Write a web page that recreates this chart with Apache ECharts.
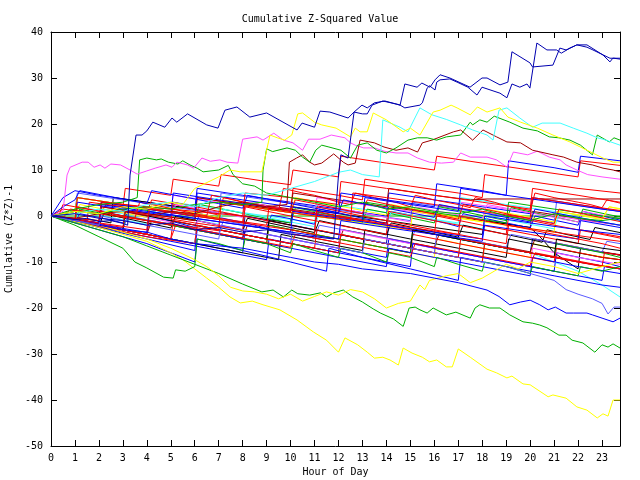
<!DOCTYPE html>
<html><head><meta charset="utf-8">
<script src="https://cdn.jsdelivr.net/npm/echarts@6/dist/echarts.min.js"></script>
<style>html,body{margin:0;padding:0;background:#fff}#c{width:640px;height:480px}</style>
</head><body><div id="c"></div>
<script>
// ---- tick labels / axis ranges ----
const xTicks = [0,1,2,3,4,5,6,7,8,9,10,11,12,13,14,15,16,17,18,19,20,21,22,23];
const xMax = 23.75;
const yTicks = [-50,-40,-30,-20,-10,0,10,20,30,40];

// ---- outlier series, [hour, value] pairs ----
const blueA = [[0,0],[0.5,-0.3],[1,-0.8],[1.5,-0.5],[2,-1.2],[2.5,-1],[3,-1.6],[3.2,-2],[3.3,8.9],[3.55,17.6],[3.8,17.6],[4,18.5],[4.25,20.4],[4.75,19.3],[5.05,21.3],[5.25,20.4],[5.7,22.2],[6.5,19.8],[6.97,19.1],[7.26,23],[7.76,23.7],[8.3,21.5],[9.0,22.4],[10.27,18.7],[10.48,20.2],[11.0,19.3],[11.23,22.8],[11.64,22.6],[12.4,21.3],[12.65,22.6],[12.98,24.1],[13.2,23.5],[13.5,24.6],[13.94,25],[14.44,24.3],[14.57,24.1],[14.77,28.7],[15.28,28],[15.48,28.9],[15.82,28],[16.03,29.6],[16.24,30.7],[16.65,30],[17.49,28],[17.99,30],[18.2,30],[18.74,28.5],[19.07,29.1],[19.24,35.7],[19.99,33.3],[20.1,32.4],[20.95,32.8],[21.24,36.5],[21.5,36.1],[21.95,37.2],[22.37,36.7],[22.62,36.1],[23.33,34.3],[23.5,34.3],[23.75,34.1]];
const blueB = [[0,0],[1,0.5],[2,-0.5],[3,-1],[4,-2],[5,-1.5],[6,-3],[7,-2.5],[8,-3.5],[9,-3],[10,-4],[11,-4.5],[11.8,-5],[12.0,8.9],[12.1,13.3],[12.4,12.6],[12.65,22.6],[13.0,22.2],[13.2,22.2],[13.4,24.1],[13.85,25],[14.44,24.3],[14.57,24.1],[14.77,23.5],[15.4,24.1],[15.5,24.6],[15.7,27.8],[15.8,28.3],[16.03,27.4],[16.1,29.1],[16.24,29.6],[16.65,29.8],[16.95,29.1],[17.4,28],[17.78,26.3],[17.99,28],[18.74,26.7],[19.03,25.7],[19.24,28.7],[19.57,28],[19.87,28.7],[19.99,27.8],[20.28,37.6],[20.7,36.1],[21.1,36.1],[21.3,35.4],[21.66,36.5],[21.95,37.2],[22.37,37.2],[23.04,35],[23.33,33.5],[23.45,34.3],[23.75,34.3]];
const yellowHigh = [[0,0],[1,1],[2,0.5],[3,2],[4,1.5],[5,3],[5.5,2.5],[6,6],[7,8.5],[7.47,10],[7.9,9.6],[8.8,9.6],[9.14,17.6],[9.45,17],[9.75,16.5],[10.05,17.6],[10.3,22.2],[10.5,22.4],[11,20.4],[11.3,19.8],[11.9,19.1],[12.5,17.2],[12.7,19.1],[12.9,18.3],[13.2,18.3],[13.45,22.4],[14,20.9],[14.7,18.3],[15.0,19.1],[15.4,17.6],[15.95,22.6],[16.24,23],[16.7,24.1],[16.95,23.5],[17.5,22],[17.8,23.7],[18.2,22.6],[18.74,23.5],[19.07,21.5],[19.6,20.4],[20.3,19.1],[20.95,17.6],[21.66,16.1],[22.37,14.3],[23.04,12.6],[23.46,11.7],[23.75,11.7]];
const cyanHigh = [[0,0],[1,0.5],[2,1.5],[3,1],[4,2.5],[5,3],[6,2],[7,4],[8,5],[9,4.5],[10,6],[11,7.5],[12,9.5],[12.5,10],[13,9],[13.7,8.5],[13.85,20.9],[14.57,19.3],[14.9,18.3],[15.4,23.5],[15.9,22],[16.5,21],[17.1,19.8],[17.6,18.7],[18.2,17.6],[18.45,16.5],[18.7,23],[19.03,23.5],[19.57,21.3],[20.1,19.3],[20.5,20.2],[21.25,20.2],[21.8,19.1],[22.37,18],[22.8,17],[23.04,16.7],[23.75,15.4]];
const greenHigh = [[0,0],[1,1],[2,0.5],[3,1.5],[4,2],[5,1.5],[6,2.5],[7,3],[8,2.5],[8.8,3],[8.85,10],[9.0,14.6],[9.25,14],[9.85,14.8],[10.2,14.3],[10.5,12.8],[10.8,11.7],[11.05,14.3],[11.3,15.4],[11.6,15],[12.1,14.3],[12.5,12.6],[12.8,15.4],[13.2,15.9],[13.6,14.3],[14.0,13.7],[14.4,14.8],[14.9,16.5],[15.3,17],[15.7,17],[16.1,16.5],[16.5,17.2],[17.1,17.6],[17.5,20.4],[17.6,19.8],[17.9,20.9],[18.2,20.4],[18.5,21.7],[19.15,20.4],[19.7,19.1],[20.3,18.5],[20.8,17.2],[21.2,17],[21.66,16.5],[22.1,15.4],[22.6,13.3],[22.8,17.6],[23.3,16.1],[23.5,17],[23.75,16.5]];
const darkredHigh = [[0,0],[1,-0.5],[2,0.5],[3,1],[4,0],[5,1],[6,0.5],[7,2],[8,3],[9,2],[9.85,2.5],[9.95,11.7],[10.25,12.6],[10.5,13.3],[10.8,11.7],[11.0,11.1],[11.3,11.5],[11.8,13.5],[12.2,11.7],[12.4,11.1],[12.7,11.5],[12.9,16.5],[13.5,15.9],[13.9,15],[14.4,14.3],[14.9,14.8],[15.3,13.9],[15.5,15.9],[15.9,16.5],[16.8,18.3],[17.1,18.7],[17.6,16.5],[18.03,18.7],[18.6,17.2],[19.03,16.1],[19.6,15.9],[20.1,14.3],[20.95,13.3],[21.4,12.8],[21.95,11.7],[22.6,11.1],[23.04,10.4],[23.46,10],[23.75,9.6]];
const magentaHigh = [[0,0],[0.5,1],[0.67,8.9],[0.8,10.6],[1.3,11.7],[1.55,11.7],[1.8,10.6],[2.05,11.1],[2.25,10.4],[2.5,11.3],[2.9,11.1],[3.3,10],[3.6,9.1],[4,9.8],[4.35,10.4],[4.8,11.1],[5.05,10.6],[5.25,11.7],[5.7,11.1],[5.95,10.4],[6.3,12.6],[6.65,11.9],[7.05,12.2],[7.35,11.7],[7.8,11.5],[8.0,16.7],[8.6,17.2],[8.85,16.5],[9.3,18],[9.7,16.5],[10.1,15.9],[10.5,14.3],[10.75,16.7],[11.23,16.7],[11.7,17.6],[12.27,17],[12.5,15.9],[12.7,15.4],[13.05,14.8],[13.5,14.8],[13.9,14.1],[14.4,13.7],[14.9,13.7],[15.3,12.6],[15.8,11.7],[16.3,11.5],[16.8,11.7],[17.1,13.7],[17.5,12.8],[18.2,12.8],[18.6,12.2],[19.03,10.6],[19.3,13.9],[19.9,13.3],[20.3,14.1],[20.8,12.8],[21.25,12.2],[21.5,11.1],[21.95,10],[22.4,9],[23,8.5],[23.75,8]];
const greenUp = [[0,0],[1,1.5],[2,2.5],[3,3],[3.6,4],[3.7,12.2],[4,12.6],[4.4,12.2],[4.6,12.4],[4.9,11.7],[5.3,11.3],[5.5,12],[5.8,11.1],[6.1,10.4],[6.35,9.6],[7,10],[7.4,11],[7.6,9],[8,7],[8.5,6.5],[9,5],[10,4],[11,3],[12,2],[13,3],[14,1.5],[15,2],[16,1],[17,0.5],[18,1.5],[19,0],[20,-1],[21,0.5],[22,-0.5],[23,-1],[23.75,-0.5]];
const yellowLow = [[0,0],[0.5,-0.5],[1,-1.2],[2,-2.5],[3,-4],[4,-5.5],[5,-8],[5.5,-9.5],[6,-11.5],[6.5,-13.5],[7,-15.5],[7.47,-17.6],[7.9,-18.9],[8.4,-18.5],[8.85,-19.3],[9.55,-20.4],[10.27,-22.6],[10.95,-25.2],[11.5,-27],[12,-29.6],[12.27,-26.5],[12.8,-28],[13.2,-29.6],[13.5,-30.9],[13.85,-30.7],[14.15,-31.3],[14.5,-32.4],[14.7,-28.7],[15.07,-29.8],[15.5,-30.7],[15.8,-31.7],[16.1,-31.3],[16.5,-32.8],[16.75,-32.8],[17,-28.9],[17.5,-30.7],[18.2,-33.3],[18.6,-34.1],[19.03,-35.2],[19.24,-34.8],[19.7,-36.5],[20,-36.7],[20.75,-39.3],[20.95,-38.9],[21.5,-39.6],[21.95,-41.5],[22.37,-42.2],[22.8,-43.9],[23.04,-43],[23.25,-43.5],[23.46,-40],[23.75,-40]];
const greenLow = [[0,0],[0.5,-0.8],[1,-1.5],[2,-3],[3,-4.5],[4,-6.5],[5,-8.5],[6,-10.5],[7,-12.5],[8,-14.8],[8.8,-16.5],[9.27,-16.1],[9.7,-17.6],[10.05,-16.1],[10.3,-16.9],[10.8,-17.2],[11.25,-16.7],[11.5,-17.6],[11.8,-16.7],[12.2,-16.1],[12.6,-17.6],[13.0,-18.7],[13.45,-20.2],[13.75,-21.1],[14.3,-22.4],[14.7,-24],[14.95,-20],[15.2,-19.8],[15.4,-20.4],[15.7,-21.1],[15.95,-20],[16.5,-21.5],[16.9,-20.9],[17.5,-22.2],[17.7,-20],[17.9,-19.3],[18.3,-20],[18.74,-20],[19.15,-21.5],[19.7,-23],[20.1,-23.3],[20.4,-23.7],[20.7,-24.3],[21.2,-25.9],[21.5,-25.9],[21.75,-27],[22.2,-27.6],[22.7,-29.6],[23,-28],[23.25,-28.5],[23.46,-27.8],[23.75,-28.7]];
const greenMid = [[0,0],[1,-2],[2,-4.5],[3,-7],[3.5,-10],[4,-11.3],[4.7,-13.3],[5.1,-13.5],[5.2,-11.7],[5.6,-12],[6,-11],[6.1,-5],[7,-6],[8,-7.5],[8.1,-5],[9,-6],[10,-8],[10.1,-6],[11,-7.5],[12,-9],[12.1,-7],[13,-8],[14,-10],[14.1,-8],[15,-9],[16,-11],[16.1,-9],[17,-10.5],[18,-12],[18.1,-10],[19,-11],[20,-12.5],[20.1,-11],[21,-12],[22,-13],[22.1,-11],[23,-12],[23.75,-11]];
const yellowMid = [[0,0],[1,-1],[2,-2],[3,-3.5],[4,-5],[5,-7],[6,-9.5],[6.5,-11],[7,-13],[7.5,-15.5],[8,-16.3],[8.5,-16.5],[9,-17],[9.5,-18],[10,-17],[10.5,-18.5],[11,-17.5],[11.5,-16.5],[12,-17.2],[12.5,-16],[13,-16.5],[13.5,-18],[14,-20],[14.5,-19],[15,-18.5],[15.4,-15],[15.6,-16],[15.8,-14],[16.5,-13],[17,-12.5],[17.5,-14.5],[18,-13.5],[18.5,-12],[19,-10.5],[19.5,-11.5],[20,-10],[21,-11],[22,-12.5],[23,-11],[23.75,-10]];
const blueLow = [[0,0],[1,-1],[2,-2],[3,-3],[4,-3.5],[5,-5],[6,-6],[7,-6.5],[8,-7],[9,-8],[10,-9],[11,-10],[12,-10.5],[13,-11.5],[14,-12],[15,-12.5],[16,-13.5],[17,-14.5],[18.2,-16.1],[18.7,-17.5],[19.15,-19.3],[19.6,-18.7],[20,-18.3],[20.4,-19.3],[20.75,-20.4],[21.05,-19.8],[21.5,-21.1],[21.8,-21.1],[22.37,-21.1],[22.6,-21.5],[23,-22.2],[23.46,-23],[23.75,-22.2]];
const slateLow = [[0,0],[1,-1],[2,-2],[2.1,0],[4,-2],[6,-4],[7,-5],[7.1,-2],[9,-4],[11,-6],[13,-8],[13.1,-5],[15,-7],[17,-9],[19,-11],[20,-12.5],[21,-14],[21.5,-16],[22,-17],[22.6,-18],[23,-19],[23.25,-21.3],[23.5,-19.8],[23.75,-19.8]];
const cyanLow = [[0,0],[2,-2],[4,-4],[6,-6],[6.1,-2],[8,-4],[10,-6],[12,-8],[12.1,-4],[14,-6],[16,-8],[17,-9],[17.1,-5],[19,-7],[20,-8],[21,-10],[22,-12],[23,-15],[23.75,-17.6]];
const greenZero = [[0,0],[xMax,0]];

// ---- cluster series, [hour, value] pairs ----
const R1 = [[0,0],[1.5,-1.2],[1.6,3],[3,2],[3.1,6],[5,4.5],[5.1,8],[7,6.5],[7.1,9],[9,7.5],[10,6.8],[10.1,10],[12,8.5],[12.1,13],[14,11.5],[16,10],[16.1,13],[18,11.5],[20,10],[22,8.5],[22.1,12],[23.75,11]];
const R2 = [[0,0],[2,-1.8],[2.1,2],[4,0.5],[6,-1],[6.1,4],[8,2.5],[10,1],[10.1,6],[12,4.5],[13,3.5],[13.1,8],[15,6.5],[17,5],[18,4],[18.1,9],[20,7.5],[22,6],[23.75,5]];
const R3 = [[0,0],[2,-2],[4,-4],[4.1,-1],[6,-3],[8,-5],[9,-6],[9.1,-2],[11,-4],[13,-6],[15,-8],[15.1,-4],[17,-6],[19,-8],[21,-10],[21.1,-7],[23,-9],[23.75,-9.5]];
const R4 = [[0,0],[1,-1],[1.1,2],[3,0],[5,-2],[5.1,3],[7,1],[9,-1],[11,-3],[11.1,1],[13,-1],[15,-3],[16,-4],[16.1,0],[18,-2],[20,-4],[22,-6],[22.1,-3],[23.75,-4.5]];
const R5 = [[0,0],[3,-2.5],[3.1,1],[6,-1.5],[8,-3],[8.1,2],[10,0],[12,-2],[14,-4],[14.1,1],[16,-1],[18,-3],[19,-4],[19.1,0],[21,-2],[23,-4],[23.75,-4.8]];
const R6 = [[0,0],[0.5,1.5],[2,0.5],[4,-1],[6,-2.5],[7,-3.2],[7.1,3],[9,1.5],[11,0],[12.5,-1],[12.6,5],[14,4],[16,2.5],[18,1],[20,-0.5],[20.1,4],[22,2.5],[23.75,1.2]];
const R7 = [[0,0],[2,-2.2],[4,-4.5],[6,-6],[6.1,-2],[8,-4],[10,-6],[12,-8],[12.1,-4],[14,-6],[16,-8],[18,-10],[18.1,-6],[20,-8],[22,-10],[23.75,-11.5]];
const R8 = [[0,0],[1,-0.8],[1.1,4],[3,2.5],[5,1],[7,-0.5],[9,-2],[9.1,2],[11,0.5],[13,-1],[15,-2.5],[17,-4],[17.1,0],[19,-2],[21,-3.5],[23,-5],[23.75,-5.5]];
const R9 = [[0,0],[2,-1.5],[4,-3],[4.1,1.5],[6,0],[8,-1.5],[10,-3],[11,-4],[11.1,2],[13,0],[15,-2],[17,-4],[19,-6],[19.1,-2],[21,-4],[23,-6],[23.75,-7]];
const R10 = [[0,0],[3,-3],[5,-5],[5.1,-1],[7,-3],[9,-5],[11,-7],[11.1,-3],[13,-5],[15,-7],[17,-9],[17.1,-5],[19,-7],[21,-9],[23,-11],[23.1,-8],[23.75,-8.5]];
const R11 = [[0,0],[2,-1],[2.1,3],[4,2],[6,1],[8,0],[8.1,5],[10,4],[12,2.5],[12.1,7.5],[14,6],[16,4.5],[18,3],[20,1.5],[20.1,6],[22,4.5],[23.75,3]];
const B1 = [[0,0],[0.5,4],[1,5.5],[2,4.5],[4,3],[6,1.5],[6.1,6],[8,4.5],[10,3],[12,1.5],[14,0],[14.1,5],[16,3.5],[18,2],[20,0.5],[20.1,4],[22,2.5],[23.75,1]];
const B2 = [[0,0],[2,-2],[4,-4],[6,-6],[8,-8],[8.1,-3],[10,-5],[12,-7],[14,-9],[14.1,-5],[16,-7],[18,-9],[20,-11],[21,-12],[21.1,-8],[23,-10],[23.75,-11]];
const B3 = [[0,0],[1,-1],[1.1,3],[3,1.5],[5,0],[5.1,5],[7,3.5],[9,2],[11,0.5],[13,-1],[13.1,4],[15,2.5],[17,1],[17.1,6],[19,4.5],[21,3],[23,1.5],[23.75,1]];
const B4 = [[0,0],[2,-2.5],[4,-5],[6,-7.5],[6.1,-3],[8,-5],[10,-7],[12,-9],[14,-11],[14.1,-7],[16,-9],[18,-11],[20,-13],[20.1,-9],[22,-11],[23.75,-12.5]];
const B5 = [[0,0],[2,-1.5],[2.1,2.5],[4,1],[6,-0.5],[8,-2],[10,-3.5],[10.1,1],[12,-0.5],[14,-2],[16,-3.5],[18,-5],[18.1,0],[20,-1.5],[22,-3],[23.75,-4]];
const B6 = [[0,0],[1,-1.2],[3,-3.5],[5,-5.5],[7,-7.5],[9,-9.5],[9.1,-5],[11,-7],[13,-9],[15,-11],[15.1,-6],[17,-8],[19,-10],[21,-12],[23,-14],[23.1,-11],[23.75,-11.5]];
const B7 = [[0,0],[2,-1.8],[4,-3.6],[4.1,1],[6,-0.5],[8,-2],[10,-3.5],[12,-5],[12.1,-1],[14,-2.5],[16,-4],[18,-5.5],[18.1,-2],[20,-3.5],[22,-5],[22.1,-1],[23.75,-2.5]];
const B8 = [[0,0],[2,-1.5],[2.1,3],[4,1.5],[6,0],[6.1,5],[8,3.5],[10,2],[12,0.5],[12.1,5],[14,3.5],[16,2],[16.1,7],[18,5.5],[19,4.5],[19.1,12],[21,10.5],[22,9.5],[22.1,13],[23.75,12]];
const B9 = [[0,0],[2,-3],[4,-6],[5,-8],[6,-10],[6.1,-5],[8,-7.5],[10,-10],[11.5,-12],[11.6,-7],[13,-9],[15,-11.5],[17,-14],[17.1,-9],[19,-11],[21,-13],[23,-15],[23.75,-15.5]];
const S1 = [[0,0],[1,1],[1.1,5],[3,3.5],[5,2],[7,0.5],[7.1,5],[9,3.5],[11,2],[13,0.5],[15,-1],[15.1,3],[17,1.5],[19,0],[21,-1.5],[21.1,3],[23,1.5],[23.75,1]];
const S2 = [[0,0],[2,-2],[4,-4],[4.1,0],[6,-2],[8,-4],[10,-6],[10.1,-2],[12,-4],[14,-6],[16,-8],[16.1,-4],[18,-6],[20,-8],[22,-10],[23.75,-11.5]];
const DB1 = [[0,0],[2,-2],[2.1,1],[4,-1],[6,-3],[8,-5],[8.1,0],[10,-2],[12,-4],[14,-6],[14.1,-2],[16,-4],[18,-6],[20,-8],[20.1,-5],[22,-7],[23.75,-8.5]];
const G1 = [[0,0],[2,-2],[4,-4],[6,-6],[6.1,-2],[8,-4],[10,-6],[12,-8],[12.1,-4],[14,-6],[16,-8],[18,-10],[18.1,-6],[20,-8],[22,-10],[23.75,-11.5]];
const G2 = [[0,0],[1,1],[1.1,4],[3,2.5],[5,1],[7,-0.5],[7.1,3],[9,1.5],[11,0],[13,-1.5],[13.1,3],[15,1.5],[17,0],[19,-1.5],[19.1,3],[21,1.5],[23,0],[23.75,-0.5]];
const G3 = [[0,0],[3,-3],[3.1,0],[5,-2],[7,-4],[9,-6],[9.1,-2],[11,-4],[13,-6],[15,-8],[15.1,-3],[17,-5],[19,-7],[21,-9],[21.1,-6],[23,-8],[23.75,-9]];
const M1 = [[0,0],[1,1],[1.1,4],[3,2.5],[5,1],[5.1,4.5],[7,3],[9,1.5],[11,0],[11.1,4],[13,2.5],[15,1],[17,-0.5],[17.1,3],[19,1.5],[21,0],[23,-1.5],[23.75,-2]];
const M2 = [[0,0],[2,-2],[4,-4],[6,-6],[6.1,-1],[8,-3],[10,-5],[12,-7],[12.1,-3],[14,-5],[16,-7],[18,-9],[20,-11],[20.1,-7],[22,-9],[23.75,-10.5]];
const CY1 = [[0,0],[1,-1],[1.1,2],[3,0.5],[5,-1],[5.1,3],[7,1.5],[9,0],[11,-1.5],[11.1,3],[13,1.5],[15,0],[17,-1.5],[17.1,4],[19,2.5],[21,1],[23,-0.5],[23.75,-1]];
const D1 = [[0,0],[2,-1.5],[2.1,3],[4,1.5],[6,0],[8,-1.5],[8.1,3],[10,1.5],[12,0],[14,-1.5],[14.1,2],[16,0.5],[18,-1],[20,-2.5],[20.1,1],[22,-0.5],[23.75,-2]];
const D2 = [[0,0],[2,-1.5],[2.1,2],[4,0.5],[6,-1],[6.1,4],[8,2.5],[10,1],[10.1,5],[12,3.5],[14,2],[14.1,6],[16,4.5],[17.5,3.5],[18.2,3.7],[23.75,3.7]];
const Y1 = [[0,0],[2,-2],[4,-4],[4.1,-1],[6,-3],[8,-5],[10,-7],[10.1,-3],[12,-5],[14,-7],[16,-9],[16.1,-5],[18,-7],[20,-9],[20.1,-6],[22,-8],[23.75,-9.5]];
const Y2 = [[0,0],[1,1],[1.1,4],[3,2.5],[5,1],[7,-0.5],[7.1,3],[9,1.5],[11,0],[13,-1.5],[15,-3],[15.1,1],[17,-0.5],[19,-2],[21,-3.5],[21.1,1],[23,-0.5],[23.3,2],[23.75,1.5]];
const K1 = [[0,0],[2,-1],[2.5,-1.5],[2.6,4],[4,3],[6,1.5],[8,0],[10,-1.5],[10.1,2],[12,0.5],[14,-1],[16,-2.5],[18,-4],[18.1,-1],[20,-2.5],[20.5,-5],[21,-8],[22,-11.5],[22.1,-7],[23.75,-8.5]];
const K2 = [[0,0],[2,-2],[4,-4],[6,-6],[8,-8],[9.5,-9.5],[9.6,-4],[11,-5.5],[13,-7.5],[13.1,-3],[15,-5],[17,-7],[19,-9],[19.1,-5],[21,-7],[23,-9],[23.75,-9.5]];
const K3 = [[0,0],[1,-1],[3,-3],[3.1,1],[5,-1],[7,-3],[9,-5],[9.1,-1],[11,-3],[13,-5],[15,-7],[15.1,-3],[17,-5],[19,-7],[21,-9],[21.1,-5],[23,-7],[23.75,-7.5]];
const E1 = [[0,0],[0.5,-0.4],[0.8,1.5],[1.5,1],[2,0.3],[2.3,2.5],[3,2],[3.5,1.2],[4,0.6],[4.2,3.5],[5,2.8],[5.5,2],[6,1.5],[6.5,0.8],[7,0.2],[7.2,4],[8,3],[8.5,2.5],[9,1.8],[9.5,1.2],[9.7,6],[10.5,5],[11,4.5],[11.5,3.8],[12,3],[12.5,2.5],[12.7,5],[13.5,4],[14,3.5],[14.5,2.8],[15,2],[15.2,4.5],[16,3.5],[17,2.5],[17.5,1.8],[17.7,4],[18.5,3],[19,2.2],[20,1.2],[20.2,5],[21,4],[22,3],[22.5,2.5],[23,1.8],[23.2,3.5],[23.75,2.8]];
const E2 = [[0,0],[0.5,-0.6],[1,-1.2],[1.2,0.5],[2,-0.3],[2.5,-0.9],[3,-1.5],[3.2,1],[4,0.2],[4.5,-0.5],[5,-1.1],[5.5,-1.8],[6,-2.5],[6.2,0.5],[7,-0.3],[8,-1.4],[8.5,-2],[9,-2.7],[9.2,0.2],[10,-0.6],[11,-1.8],[11.2,1.5],[12,0.7],[13,-0.5],[13.5,-1],[14,-1.8],[14.2,1],[15,0.2],[16,-1],[16.5,-1.6],[17,-2.3],[17.2,0.5],[18,-0.4],[19,-1.5],[20,-2.6],[20.2,0],[21,-0.9],[22,-2],[22.2,1],[23,0],[23.75,-0.9]];
const E3 = [[0,0],[1,-1],[1.2,1.5],[2,0.7],[3,-0.3],[3.2,2],[4,1.2],[5,0.1],[6,-0.9],[6.2,2.5],[7,1.7],[8,0.6],[9,-0.5],[10,-1.5],[10.2,1.8],[11,1],[12,-0.1],[13,-1.2],[13.2,1.5],[14,0.7],[15,-0.4],[16,-1.5],[16.2,2],[17,1.2],[18,0.1],[19,-1],[19.2,1.8],[20,0.9],[21,-0.2],[22,-1.3],[22.2,1.5],[23,0.6],[23.75,-0.2]];
const E4 = [[0,0],[0.3,-0.3],[0.5,2.5],[1,2],[2,1],[3,0],[3.5,-0.5],[3.7,3],[4.5,2.2],[5,1.6],[6,0.5],[6.5,0],[6.7,4.5],[7.5,3.7],[8,3.1],[9,2],[10,1],[10.2,3.5],[11,2.7],[12,1.6],[13,0.5],[13.2,3.5],[14,2.6],[15,1.5],[16,0.4],[17,-0.7],[17.2,2.5],[18,1.6],[19,0.5],[20,-0.6],[21,-1.7],[21.2,1.5],[22,0.7],[23,-0.4],[23.75,-1.2]];
const E5 = [[0,0],[1,-1.1],[2,-2.2],[2.2,0.5],[3,-0.4],[4,-1.5],[5,-2.6],[5.2,0],[6,-0.9],[7,-2],[8,-3.1],[8.2,-0.5],[9,-1.4],[10,-2.5],[11,-3.6],[11.2,-1],[12,-1.9],[13,-3],[14,-4.1],[14.2,-1.5],[15,-2.4],[16,-3.5],[17,-4.6],[17.2,-2],[18,-2.9],[19,-4],[20,-5.1],[20.5,-5.7],[20.7,-3],[21.5,-4],[22.5,-5.1],[22.7,-2.5],[23.75,-3.6]];
const E6 = [[0,0],[1,-1],[2,-2],[2.2,1.5],[3,0.7],[4,-0.3],[5,-1.3],[5.2,2.5],[6,1.7],[7,0.7],[8,-0.3],[8.2,3],[9,2.2],[10,1.2],[11,0.2],[11.2,2.5],[12,1.7],[13,0.7],[14,-0.3],[15,-1.3],[15.2,2],[16,1.2],[17,0.2],[18,-0.8],[18.2,2.5],[19,1.7],[20,0.7],[21,-0.3],[22,-1.3],[22.2,1],[23,0.2],[23.75,-0.5]];
const E7 = [[0,0],[1,-1],[1.2,1],[2,0.2],[3,-0.8],[4,-1.8],[4.2,1],[5,0.2],[6,-0.8],[7,-1.8],[7.2,1.5],[8,0.7],[9,-0.3],[10,-1.3],[11,-2.3],[11.2,0.5],[12,-0.3],[13,-1.3],[14,-2.3],[14.2,1],[15,0.2],[16,-0.8],[17,-1.8],[18,-2.8],[18.2,0],[19,-0.8],[20,-1.8],[21,-2.8],[21.2,0.5],[22,-0.3],[23,-1.3],[23.75,-2]];
const E8 = [[0,0],[1,-1],[2,-2],[3,-3],[3.2,0],[4,-0.8],[5,-1.8],[6,-2.8],[7,-3.8],[7.2,-1],[8,-1.8],[9,-2.8],[10,-3.8],[11,-4.8],[11.2,-2],[12,-2.8],[13,-3.8],[14,-4.8],[15,-5.8],[15.2,-3],[16,-3.8],[17,-4.8],[18,-5.8],[19,-6.8],[19.2,-4],[20,-4.8],[21,-5.8],[22,-6.8],[23,-7.8],[23.2,-5.5],[23.75,-6]];
const E9 = [[0,0],[1,-1],[2,-2],[3,-3],[4,-4],[4.2,-1],[5,-1.8],[6,-2.8],[7,-3.8],[8,-4.8],[8.2,-2],[9,-2.8],[10,-3.8],[11,-4.8],[12,-5.8],[12.2,-3],[13,-3.8],[14,-4.8],[15,-5.8],[16,-6.8],[16.2,-4],[17,-4.8],[18,-5.8],[19,-6.8],[20,-7.8],[20.2,-5],[21,-5.8],[22,-6.8],[23,-7.8],[23.75,-8.4]];
const E10 = [[0,0],[1,-1],[2,-2],[3,-3],[4,-4],[5,-5],[5.2,-2],[6,-2.8],[7,-3.8],[8,-4.8],[9,-5.8],[10,-6.8],[10.2,-4],[11,-4.8],[12,-5.8],[13,-6.8],[14,-7.8],[15,-8.8],[15.2,-6],[16,-6.8],[17,-7.8],[18,-8.8],[19,-9.8],[20,-10.8],[20.2,-8],[21,-8.8],[22,-9.8],[23,-10.8],[23.75,-11.4]];
const E11 = [[0,0],[0.5,2],[1,3.5],[1.2,5.5],[2,4.7],[3,3.7],[4,2.7],[4.2,5.5],[5,4.7],[6,3.7],[7,2.7],[8,1.7],[8.2,4.5],[9,3.7],[10,2.7],[11,1.7],[12,0.7],[12.2,3.5],[13,2.7],[14,1.7],[15,0.7],[16,-0.3],[16.2,2.5],[17,1.7],[18,0.7],[19,-0.3],[20,-1.3],[20.2,1.5],[21,0.7],[22,-0.3],[23,-1.3],[23.75,-2]];
const E12 = [[0,0],[1,0.5],[1.2,2.5],[2,1.7],[3,0.7],[4,-0.3],[4.2,2.5],[5,1.7],[6,0.7],[7,-0.3],[7.2,3.5],[8,2.7],[9,1.7],[10,0.7],[10.2,4],[11,3.2],[12,2.2],[13,1.2],[14,0.2],[14.2,2.5],[15,1.7],[16,0.7],[17,-0.3],[18,-1.3],[18.2,1.5],[19,0.7],[20,-0.3],[21,-1.3],[21.2,1],[22,0.2],[23,-0.8],[23.3,2],[23.75,1.6]];

const C = {red:'#ff0000',green:'#00b000',blue:'#0000ff',magenta:'#ff50ff',cyan:'#40ffff',darkred:'#a00000',yellow:'#ffff00',black:'#000000',slate:'#5a5aff',darkblue:'#0000b0'};

const lines = [
  [greenZero,'green'],
  [R1,'red'],[B1,'blue'],[G1,'green'],[M1,'magenta'],[CY1,'cyan'],[D1,'darkred'],[Y1,'yellow'],[K1,'black'],[S1,'slate'],[DB1,'darkblue'],
  [E1,'red'],[E2,'blue'],[E3,'green'],[E6,'magenta'],[E7,'cyan'],[E9,'darkred'],[E12,'yellow'],[E5,'black'],[E8,'slate'],
  [R2,'red'],[B2,'blue'],[G2,'green'],[M2,'magenta'],[cyanLow,'cyan'],[D2,'darkred'],[Y2,'yellow'],[K2,'black'],[S2,'slate'],
  [R3,'red'],[B3,'blue'],[G3,'green'],[R4,'red'],[B4,'blue'],[K3,'black'],[R5,'red'],[B5,'blue'],[R6,'red'],[B6,'blue'],
  [R7,'red'],[B7,'blue'],[R8,'red'],[B8,'blue'],[R9,'red'],[B9,'blue'],[R10,'red'],[R11,'red'],[E4,'red'],[E10,'red'],[E11,'blue'],
  [yellowLow,'yellow'],[greenLow,'green'],[greenMid,'green'],[yellowMid,'yellow'],[blueLow,'blue'],[slateLow,'slate'],[greenUp,'green'],
  [magentaHigh,'magenta'],[darkredHigh,'darkred'],[greenHigh,'green'],[cyanHigh,'cyan'],[yellowHigh,'yellow'],[blueA,'darkblue'],[blueB,'darkblue']
];

const series = lines.map(([data,col]) => ({
  type:'line', data:data, showSymbol:false, symbol:'none', silent:true, animation:false,
  lineStyle:{width:1, color:C[col]}, itemStyle:{color:C[col]}
}));

const font = 'DejaVu Sans Mono';
const axisCommon = {
  axisLine:{show:true, onZero:false, lineStyle:{color:'#000', width:1}},
  axisTick:{show:true, inside:true, length:6, lineStyle:{color:'#000'}},
  splitLine:{show:false}
};
const chart = echarts.init(document.getElementById('c'), null, {renderer:'canvas'});
chart.setOption({
  backgroundColor:'#fff',
  animation:false,
  title:{text:'Cumulative Z-Squared Value', left:'center', top:9,
    textStyle:{fontFamily:font, fontSize:10, fontWeight:'normal', color:'#000'}},
  grid:{left:51, right:20, top:32, bottom:34, containLabel:false, outerBoundsMode:'none'},
  xAxis:[
    Object.assign({type:'value', min:xTicks[0], max:xMax, interval:1, position:'bottom',
      name:'Hour of Day', nameLocation:'middle', nameGap:21,
      nameTextStyle:{fontFamily:font, fontSize:10, color:'#000'},
      axisLabel:{fontFamily:font, fontSize:10, color:'#000', margin:7, showMaxLabel:false}}, axisCommon),
    Object.assign({type:'value', min:xTicks[0], max:xMax, interval:1, position:'top',
      axisLabel:{show:false}}, axisCommon)
  ],
  yAxis:[
    Object.assign({type:'value', min:yTicks[0], max:yTicks[yTicks.length-1], interval:10, position:'left',
      name:'Cumulative (Z*Z)-1', nameLocation:'middle', nameGap:35, nameRotate:90,
      nameTextStyle:{fontFamily:font, fontSize:10, color:'#000'},
      axisLabel:{fontFamily:font, fontSize:10, color:'#000', margin:8}}, axisCommon),
    Object.assign({type:'value', min:yTicks[0], max:yTicks[yTicks.length-1], interval:10, position:'right',
      axisLabel:{show:false}}, axisCommon)
  ],
  series: series
});
</script></body></html>
